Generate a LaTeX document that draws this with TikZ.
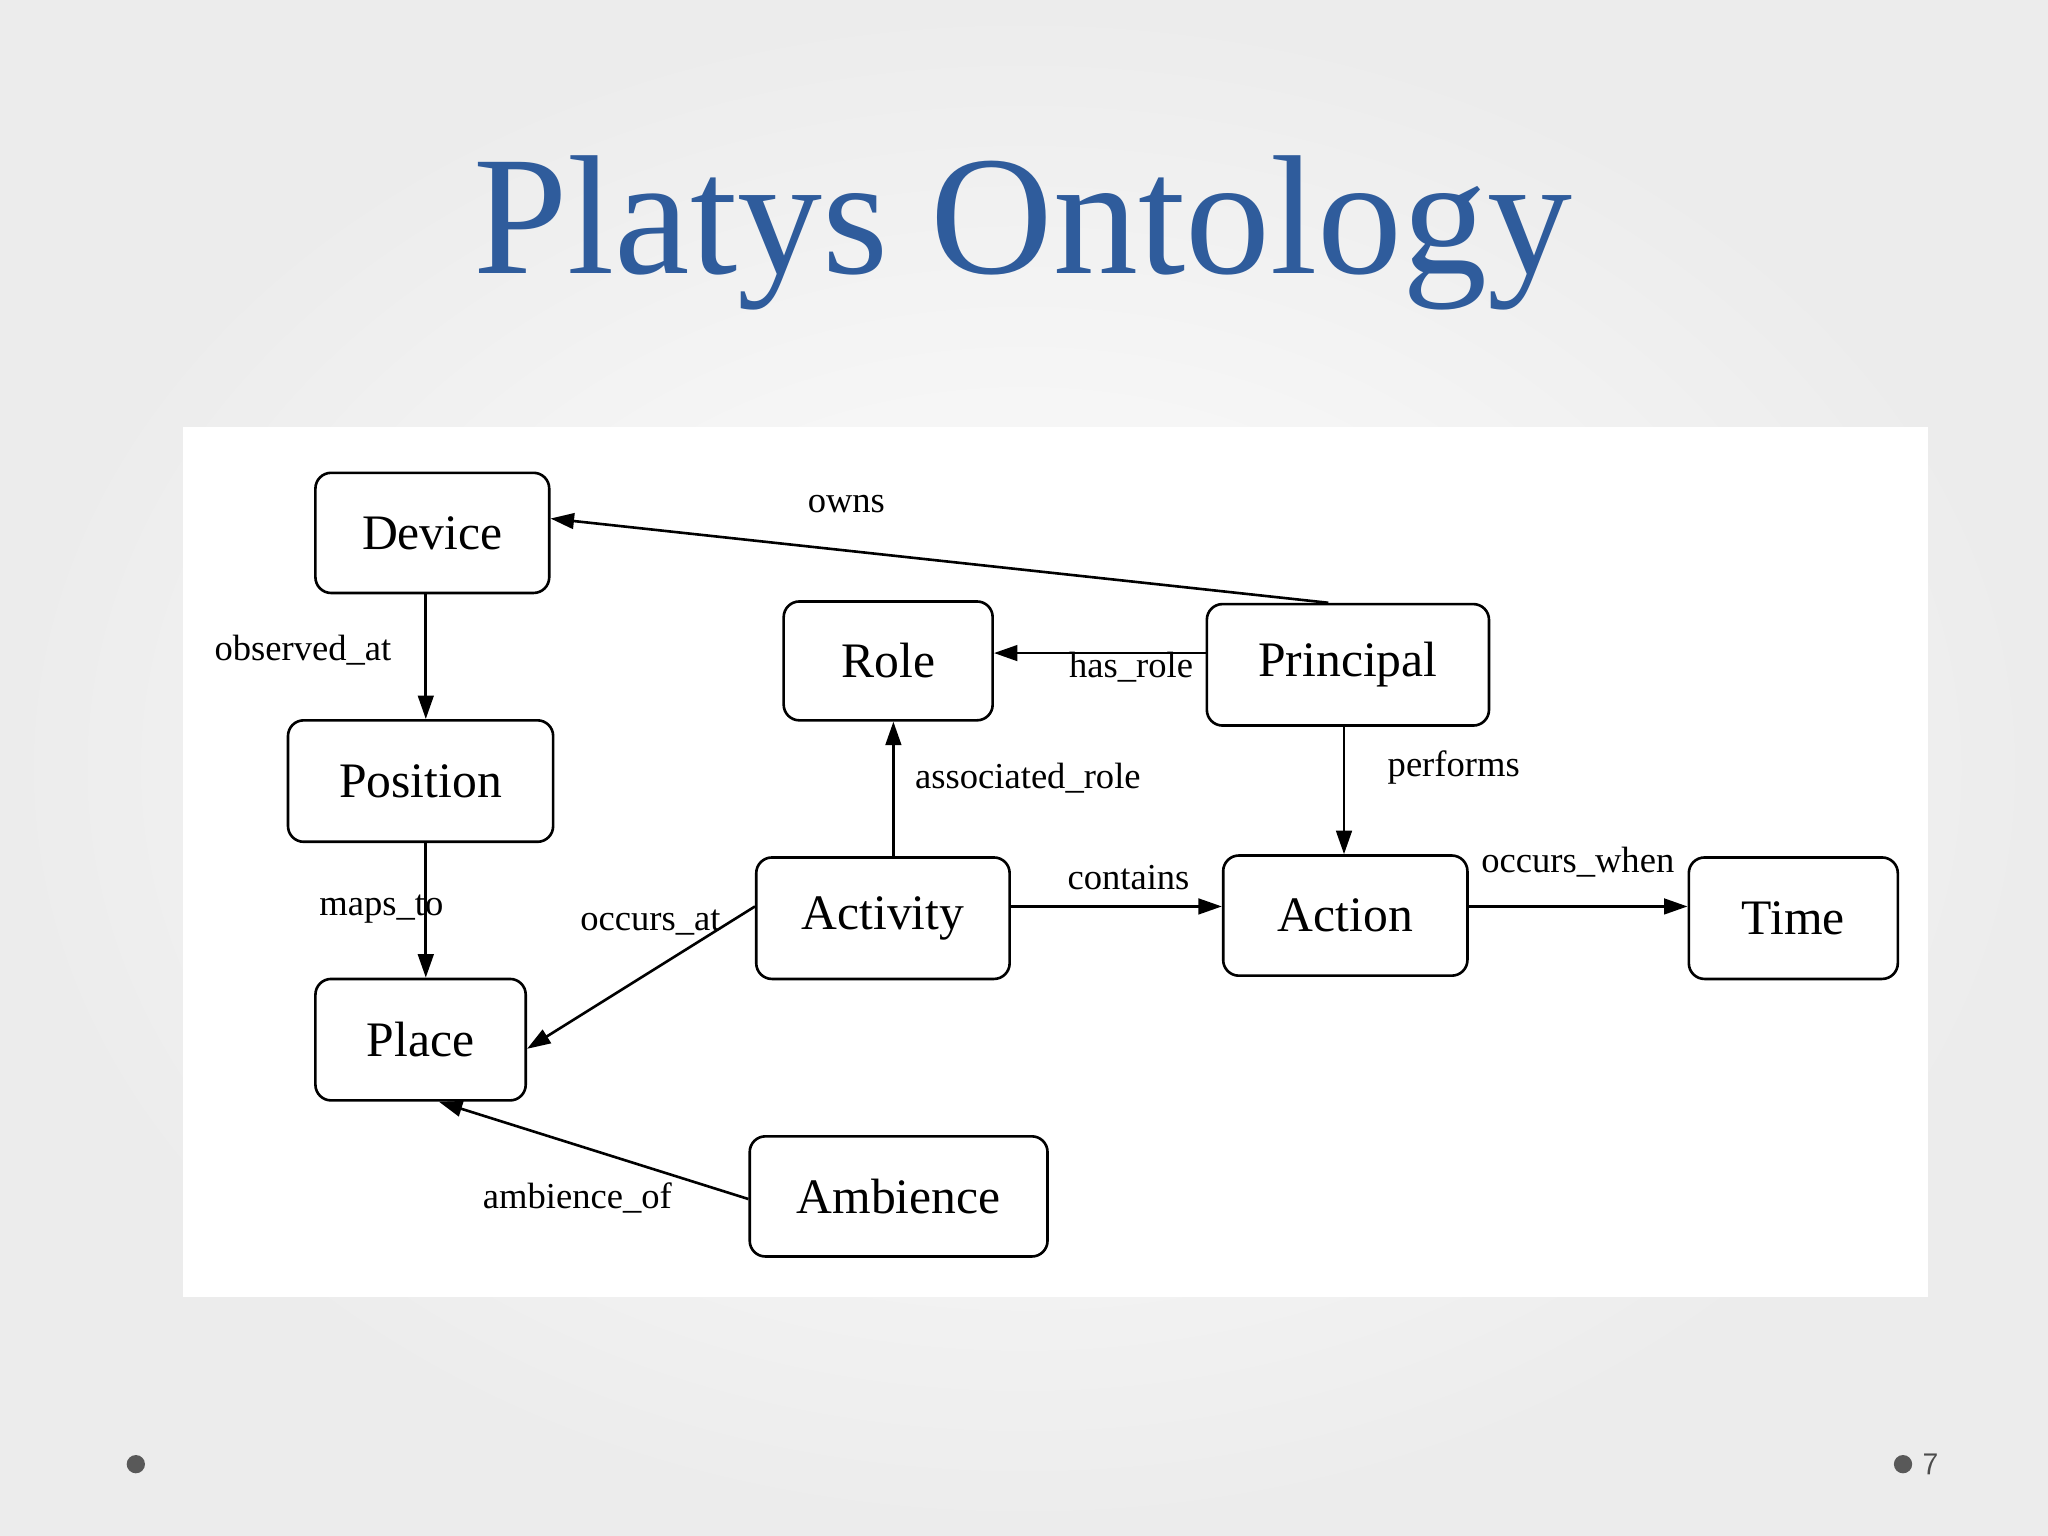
\documentclass[tikz,border=0pt]{standalone}
\usepackage{fontspec}
\setmainfont{Liberation Serif}
\usetikzlibrary{arrows.meta}
\definecolor{ttl}{HTML}{2F5C9C}
\begin{document}
\begin{tikzpicture}[x=0.5pt,y=-0.5pt,
  box/.style={draw,rounded corners=6pt,line width=1pt,inner sep=0pt,font=\fontsize{19}{19}\selectfont},
  lab/.style={font=\fontsize{14}{14}\selectfont,inner sep=1pt},
  arr/.style={line width=1pt,-{Triangle[length=9pt,width=6pt]}}]
\shade[inner color=white,outer color=gray!15] (0,0) rectangle (1568,1176);
\useasboundingbox (0,0) rectangle (1568,1176);
\fill[white] (140,327) rectangle (1476,993);
\node[text=ttl,font=\fontsize{65}{65}\selectfont] (title) at (783,178) {Platys Ontology};
\node[box,minimum width=89.5pt,minimum height=46pt] (dev) at (331,408) {Device};
\node[box,minimum width=101.5pt,minimum height=46.5pt] (pos) at (322,598) {Position};
\node[box,minimum width=80.5pt,minimum height=46.5pt] (pla) at (322,796) {Place};
\node[box,minimum width=80pt,minimum height=45.5pt] (rol) at (680,506) {Role};
\node[box,minimum width=108pt,minimum height=46.5pt] (pri) at (1032,509) {Principal};
\node[box,minimum width=97pt,minimum height=46.5pt] (act) at (676,703) {Activity};
\node[box,minimum width=93.5pt,minimum height=46pt] (acn) at (1030,701) {Action};
\node[box,minimum width=80pt,minimum height=46.5pt] (tim) at (1373,703) {Time};
\node[box,minimum width=114pt,minimum height=46pt] (amb) at (688,916) {Ambience};
\draw[arr] ([xshift=-7.5pt]pri.north) -- ([yshift=5.5pt]dev.east);
\draw[arr] ([xshift=-2.5pt]dev.south) -- ([xshift=2pt]pos.north);
\draw[arr] ([yshift=4.5pt]pri.west) -- ([yshift=3pt]rol.east);
\draw[arr] ([xshift=-1.5pt]pri.south) -- ([xshift=-0.5pt]acn.north);
\draw[arr] ([xshift=4pt]act.north) -- ([xshift=2pt]rol.south);
\draw[arr] ([xshift=2pt]pos.south) -- ([xshift=2pt]pla.north);
\draw[arr] ([yshift=4.5pt]act.west) -- ([yshift=-3.5pt]pla.east);
\draw[arr] ([yshift=4.5pt]act.east) -- ([yshift=3.5pt]acn.west);
\draw[arr] ([yshift=3.5pt]acn.east) -- ([yshift=4.5pt]tim.west);
\draw[arr] ([yshift=-1pt]amb.west) -- ([xshift=7pt]pla.south);
\node[lab] (l1) at (648,386) {owns};
\node[lab] (l2) at (232,498) {observed\_at};
\node[lab] (l3) at (866,511) {has\_role};
\node[lab] (l4) at (1113,588) {performs};
\node[lab] (l5) at (787,596) {associated\_role};
\node[lab] (l6) at (292,696) {maps\_to};
\node[lab] (l7) at (498,706) {occurs\_at};
\node[lab] (l8) at (864,672) {contains};
\node[lab] (l9) at (1208,660) {occurs\_when};
\node[lab] (l10) at (442,917) {ambience\_of};
\fill[gray!70!black] (104,1121) circle (7);
\fill[gray!70!black] (1457,1121) circle (7);
\node[text=gray!60!black,font=\fontsize{12}{12}\selectfont\sffamily] (pg) at (1478,1121) {7};
\end{tikzpicture}
\end{document}
